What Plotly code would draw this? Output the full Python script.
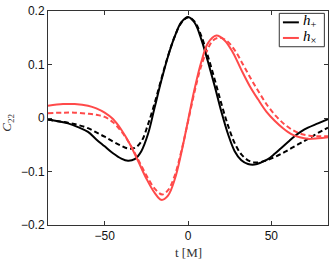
import plotly.graph_objects as go

# ---- data ----
t_plus_solid = [-84, -78, -72, -66, -60, -55, -50, -45, -40, -36, -32, -28, -24, -20, -16, -12, -8, -4, 0,
                4, 8, 12, 16, 20, 24, 28, 32, 36, 40, 44, 48, 52, 56, 60, 64, 68, 72, 78, 84]
h_plus_solid = [-0.003, -0.006, -0.010, -0.017, -0.026, -0.040, -0.053, -0.066, -0.076, -0.080, -0.077, -0.062,
                -0.030, 0.020, 0.070, 0.115, 0.152, 0.179, 0.189,
                0.178, 0.147, 0.105, 0.060, 0.012, -0.030, -0.062, -0.079, -0.086, -0.087, -0.083, -0.077,
                -0.067, -0.056, -0.045, -0.034, -0.025, -0.018, -0.010, -0.002]

t_plus_dash = [-84, -78, -72, -66, -60, -55, -50, -45, -40, -36, -32, -28, -24, -20, -16, -12, -8, -4, 0,
               4, 8, 12, 16, 20, 24, 28, 32, 36, 40, 44, 48, 52, 56, 60, 64, 68, 72, 78, 84]
h_plus_dash = [-0.003, -0.006, -0.009, -0.013, -0.019, -0.027, -0.035, -0.044, -0.052, -0.057, -0.056, -0.044,
               -0.012, 0.028, 0.073, 0.116, 0.152, 0.178, 0.188,
               0.180, 0.153, 0.115, 0.072, 0.027, -0.014, -0.047, -0.068, -0.079, -0.083, -0.082, -0.078,
               -0.073, -0.067, -0.060, -0.053, -0.046, -0.039, -0.028, -0.018]

t_cross_solid = [-84, -75, -68, -60, -55, -50, -45, -40, -35, -30, -25, -20, -16, -12, -8, -4, 0,
                 4, 8, 12, 17, 22, 27, 32, 37, 42, 47, 52, 57, 62, 67, 72, 78, 84]
h_cross_solid = [0.023, 0.026, 0.026, 0.023, 0.018, 0.010, -0.002, -0.022, -0.048, -0.080, -0.113, -0.140,
                 -0.153, -0.145, -0.115, -0.065, -0.005,
                 0.055, 0.105, 0.140, 0.154, 0.145, 0.122, 0.090, 0.060, 0.035, 0.012, -0.005, -0.019,
                 -0.030, -0.036, -0.039, -0.038, -0.036]

t_cross_dash = [-84, -75, -68, -60, -55, -50, -45, -40, -35, -30, -25, -20, -15.5, -12, -8, -4, 0,
                4, 8, 12, 15, 18.5, 23, 28, 33, 38, 43, 48, 53, 58, 63, 68, 73, 78, 84]
h_cross_dash = [0.009, 0.010, 0.010, 0.008, 0.006, 0.002, -0.008, -0.025, -0.048, -0.077, -0.107, -0.132,
                -0.143, -0.135, -0.108, -0.062, -0.007,
                0.050, 0.098, 0.130, 0.145, 0.150, 0.145, 0.127, 0.100, 0.072, 0.046, 0.022, 0.003,
                -0.012, -0.023, -0.030, -0.033, -0.034, -0.034]

legend_labels = ["<i>h</i><sub>+</sub>", "<i>h</i><sub>×</sub>"]
x_ticks = [-50, 0, 50]
y_ticks = [-0.2, -0.1, 0, 0.1, 0.2]
y_tick_text = ["−0.2", "−0.1", "0", "0.1", "0.2"]

BLACK = "#000000"
RED = "#ff4a4a"

fig = go.Figure()
fig.add_trace(go.Scatter(x=t_plus_dash, y=h_plus_dash, mode="lines",
                         line=dict(color=BLACK, width=2, dash="5px,3px", shape="spline", smoothing=1.0),
                         showlegend=False))
fig.add_trace(go.Scatter(x=t_cross_dash, y=h_cross_dash, mode="lines",
                         line=dict(color=RED, width=2, dash="5px,3px", shape="spline", smoothing=1.0),
                         showlegend=False))
fig.add_trace(go.Scatter(x=t_plus_solid, y=h_plus_solid, mode="lines",
                         line=dict(color=BLACK, width=2, shape="spline", smoothing=1.0),
                         showlegend=False))
fig.add_trace(go.Scatter(x=t_cross_solid, y=h_cross_solid, mode="lines",
                         line=dict(color=RED, width=2, shape="spline", smoothing=1.0),
                         showlegend=False))

axis_common = dict(showgrid=False, zeroline=False, showline=True, linecolor="#333333", linewidth=1,
                   mirror="ticks", ticks="inside", ticklen=4, tickcolor="#333333",
                   tickfont=dict(family="Liberation Sans, Arial", size=12, color="#111111"))

fig.update_xaxes(range=[-84, 84], tickvals=x_ticks, **axis_common)
fig.update_yaxes(range=[-0.2, 0.2], tickvals=y_ticks, ticktext=y_tick_text, **axis_common)

# manual legend
shapes = [
    dict(type="rect", xref="paper", yref="paper", x0=0.826, x1=0.987, y0=0.833, y1=0.989,
         line=dict(color="#333333", width=1), fillcolor="white", layer="above"),
    dict(type="line", xref="paper", yref="paper", x0=0.839, x1=0.896, y0=0.947, y1=0.947,
         line=dict(color=BLACK, width=2), layer="above"),
    dict(type="line", xref="paper", yref="paper", x0=0.839, x1=0.896, y0=0.874, y1=0.874,
         line=dict(color=RED, width=2), layer="above"),
]
annotations = [
    dict(text=legend_labels[0], xref="paper", yref="paper", x=0.903, y=0.952, xanchor="left", yanchor="middle",
         showarrow=False, font=dict(family="Liberation Serif, serif", size=15, color="#000")),
    dict(text=legend_labels[1], xref="paper", yref="paper", x=0.903, y=0.879, xanchor="left", yanchor="middle",
         showarrow=False, font=dict(family="Liberation Serif, serif", size=15, color="#000")),
    dict(text="t [M]", xref="paper", yref="paper", x=0.5, y=-0.13, xanchor="center", yanchor="middle",
         showarrow=False, font=dict(family="Liberation Serif, serif", size=13, color="#333")),
    dict(text="<i>C</i><sub>22</sub>", xref="paper", yref="paper", x=-0.145, y=0.48, xanchor="center",
         yanchor="middle", textangle=-90, showarrow=False,
         font=dict(family="Liberation Serif, serif", size=13, color="#333")),
]

fig.update_layout(width=332, height=261, margin=dict(l=48, r=4, t=11, b=36),
                  paper_bgcolor="white", plot_bgcolor="white",
                  shapes=shapes, annotations=annotations, showlegend=False)

fig.write_html("out.html", config={"displayModeBar": False},
               post_script="document.body.style.margin='0';")
